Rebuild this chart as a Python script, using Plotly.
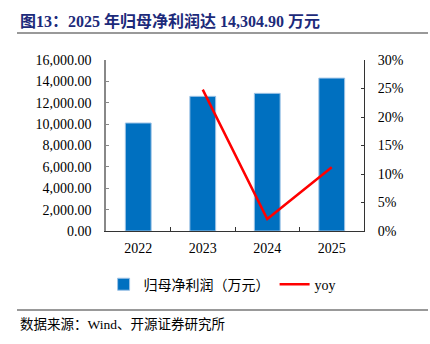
import plotly.graph_objects as go

years = ["2022", "2023", "2024", "2025"]
profit = [10105, 12600, 12880, 14304.90]
yoy = [None, 0.248, 0.021, 0.112]

title_text = "图13：2025 年归母净利润达 14,304.90 万元"
source_text = "数据来源：Wind、开源证券研究所"
bar_name = "归母净利润（万元）"
line_name = "yoy"

serif = "Liberation Serif, Times New Roman, Noto Sans CJK SC, serif"

fig = go.Figure()
fig.add_trace(go.Bar(
    x=years, y=profit, name=bar_name,
    marker=dict(color="#0070C0", line=dict(color="#9DC3E6", width=1)),
    yaxis="y",
))
fig.add_trace(go.Scatter(
    x=years, y=yoy, name=line_name, mode="lines",
    line=dict(color="#FF0000", width=2.5),
    yaxis="y2",
))

fig.update_layout(
    width=430, height=344,
    margin=dict(l=106, r=66, t=60, b=113),
    paper_bgcolor="white", plot_bgcolor="white",
    font=dict(family=serif, size=14, color="#000000"),
    bargap=0.6,
    showlegend=True,
    legend=dict(
        orientation="h", x=0.45, xanchor="center",
        y=-0.22, yanchor="top",
        font=dict(size=14, family=serif),
        itemwidth=30,
        tracegroupgap=0,
    ),
    xaxis=dict(
        type="category",
        showline=True, linecolor="#333333", linewidth=1,
        ticks="inside", tickson="boundaries", ticklen=4, tickcolor="#333333",
        showgrid=False, zeroline=False,
        tickfont=dict(size=14, family=serif),
        ticklabelstandoff=4,
    ),
    yaxis=dict(
        range=[0, 16000], dtick=2000, tickformat=",.2f",
        showline=True, linecolor="#888888", linewidth=1.5,
        ticks="inside", ticklen=3, tickcolor="#888888",
        showgrid=False, zeroline=False,
        tickfont=dict(size=14, family=serif),
        ticklabelstandoff=10,
    ),
    yaxis2=dict(
        range=[0, 0.30], dtick=0.05, tickformat=".0%",
        overlaying="y", side="right",
        showline=True, linecolor="#333333", linewidth=1,
        ticks="inside", ticklen=3, tickcolor="#333333",
        showgrid=False, zeroline=False,
        tickfont=dict(size=14, family=serif),
        ticklabelstandoff=10,
    ),
    annotations=[
        dict(text="<b>" + title_text + "</b>", xref="paper", yref="paper",
             x=-88/257, y=1 + 39/171, xanchor="left", yanchor="middle",
             showarrow=False,
             font=dict(size=16, color="#1C2A7A", family=serif)),
        dict(text=source_text, xref="paper", yref="paper",
             x=-88/257, y=-93/171, xanchor="left", yanchor="middle",
             showarrow=False,
             font=dict(size=13.5, color="#000000", family=serif)),
    ],
    shapes=[
        dict(type="line", xref="paper", yref="paper",
             x0=-89/258, x1=322/258, y0=1 + 27/171, y1=1 + 27/171,
             line=dict(color="#777777", width=1.5)),
        dict(type="line", xref="paper", yref="paper",
             x0=-89/258, x1=322/258, y0=-79/171, y1=-79/171,
             line=dict(color="#777777", width=1.5)),
    ],
)

fig.write_html("out.html")
